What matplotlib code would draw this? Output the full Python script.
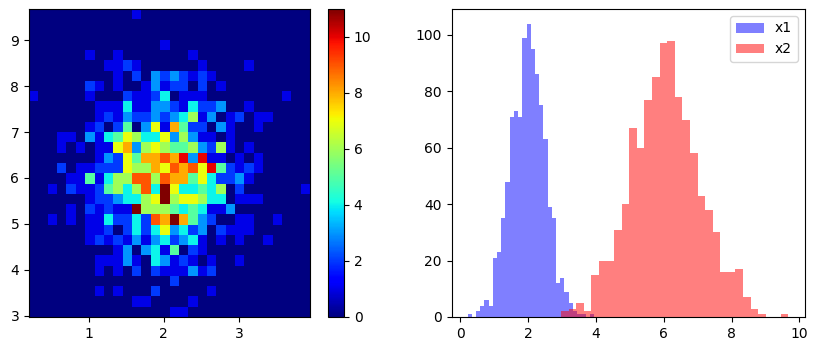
import numpy as np
import matplotlib.pyplot as plt

# bin edges of x1 (horizontal) and x2 (vertical), 30 bins each
x1_edges = np.linspace(0.21, 3.94, 31)
x2_edges = np.linspace(2.97, 9.68, 31)

# 2d histogram counts, top row (highest x2) first, columns low -> high x1
counts = [
    [0, 0, 0, 0, 0, 0, 0, 0, 0, 0, 0, 1, 0, 0, 0, 0, 0, 0, 0, 0, 0, 0, 0, 0, 0, 0, 0, 0, 0, 0],
    [0, 0, 0, 0, 0, 0, 0, 0, 0, 0, 0, 0, 0, 0, 0, 0, 0, 0, 0, 0, 0, 0, 0, 0, 0, 0, 0, 0, 0, 0],
    [0, 0, 0, 0, 0, 0, 0, 0, 0, 0, 0, 0, 0, 0, 0, 0, 0, 0, 0, 0, 0, 0, 0, 0, 0, 0, 0, 0, 0, 0],
    [0, 0, 0, 0, 0, 0, 0, 0, 0, 0, 0, 0, 0, 0, 1, 0, 0, 0, 0, 0, 0, 0, 0, 0, 0, 0, 0, 0, 0, 0],
    [0, 0, 0, 0, 0, 0, 1, 0, 0, 1, 0, 0, 0, 0, 0, 0, 0, 1, 0, 0, 0, 0, 0, 0, 0, 0, 0, 0, 0, 0],
    [0, 0, 0, 0, 0, 0, 0, 0, 1, 1, 2, 1, 0, 0, 0, 0, 0, 0, 1, 0, 0, 0, 0, 1, 0, 0, 0, 0, 0, 0],
    [0, 0, 0, 0, 0, 0, 0, 0, 0, 1, 0, 2, 0, 3, 2, 3, 2, 1, 2, 1, 0, 0, 0, 0, 0, 0, 0, 0, 0, 0],
    [0, 0, 0, 0, 0, 0, 2, 1, 0, 1, 0, 0, 1, 3, 1, 2, 2, 0, 2, 0, 1, 0, 0, 0, 0, 0, 0, 0, 0, 0],
    [1, 0, 0, 0, 0, 0, 1, 0, 0, 0, 2, 1, 1, 2, 4, 0, 1, 1, 1, 0, 0, 0, 0, 0, 0, 0, 0, 1, 0, 0],
    [0, 0, 0, 0, 0, 0, 0, 1, 1, 1, 4, 1, 1, 3, 3, 2, 1, 4, 2, 2, 3, 0, 0, 1, 0, 0, 0, 0, 0, 0],
    [0, 0, 0, 0, 0, 0, 0, 1, 2, 1, 3, 2, 2, 3, 2, 3, 4, 6, 1, 3, 0, 1, 2, 0, 1, 1, 0, 0, 0, 0],
    [0, 0, 0, 0, 0, 0, 1, 2, 0, 2, 5, 0, 3, 7, 1, 8, 5, 2, 2, 0, 3, 1, 0, 0, 1, 0, 0, 0, 0, 0],
    [0, 0, 0, 1, 1, 0, 3, 1, 4, 5, 7, 6, 4, 4, 7, 3, 6, 3, 1, 1, 0, 1, 0, 0, 0, 0, 0, 0, 0, 0],
    [0, 0, 0, 1, 0, 1, 0, 1, 1, 7, 8, 3, 6, 7, 6, 5, 5, 6, 3, 2, 6, 1, 0, 1, 0, 0, 0, 0, 0, 0],
    [0, 0, 0, 0, 0, 0, 0, 1, 3, 2, 7, 5, 8, 8, 9, 8, 10, 3, 10, 1, 1, 0, 1, 0, 1, 0, 0, 0, 0, 0],
    [0, 0, 0, 2, 0, 1, 1, 2, 2, 2, 7, 6, 6, 8, 7, 9, 8, 9, 7, 10, 5, 2, 1, 2, 1, 0, 0, 0, 0, 0],
    [0, 0, 0, 0, 1, 1, 5, 1, 4, 6, 6, 9, 9, 6, 9, 8, 8, 5, 7, 4, 2, 2, 3, 1, 0, 0, 0, 0, 0, 0],
    [0, 0, 1, 0, 2, 1, 1, 2, 5, 6, 4, 6, 9, 4, 11, 7, 4, 4, 5, 4, 6, 0, 2, 0, 0, 0, 0, 0, 0, 1],
    [0, 0, 0, 0, 0, 0, 1, 2, 2, 3, 4, 4, 6, 7, 11, 6, 7, 7, 6, 4, 4, 0, 1, 1, 1, 0, 0, 0, 0, 0],
    [0, 0, 0, 0, 1, 0, 2, 1, 2, 1, 1, 11, 6, 6, 6, 5, 4, 5, 4, 1, 1, 3, 0, 0, 0, 0, 0, 0, 0, 0],
    [0, 0, 1, 0, 1, 0, 1, 1, 4, 2, 2, 4, 2, 9, 8, 11, 8, 5, 3, 2, 0, 0, 1, 1, 0, 0, 1, 0, 0, 0],
    [0, 0, 0, 0, 0, 0, 1, 1, 2, 0, 2, 4, 2, 4, 7, 3, 4, 2, 3, 0, 2, 1, 1, 1, 0, 0, 0, 0, 0, 0],
    [0, 0, 0, 0, 0, 0, 1, 2, 1, 2, 1, 3, 1, 3, 4, 2, 3, 4, 1, 0, 1, 0, 1, 0, 0, 1, 0, 0, 0, 0],
    [0, 0, 0, 0, 0, 0, 0, 0, 0, 1, 3, 0, 3, 4, 1, 5, 0, 2, 1, 0, 0, 0, 0, 0, 0, 0, 0, 0, 0, 0],
    [0, 0, 0, 0, 0, 0, 0, 1, 1, 1, 3, 1, 0, 4, 3, 1, 2, 1, 0, 1, 0, 0, 1, 0, 0, 0, 0, 0, 0, 0],
    [0, 0, 0, 0, 0, 0, 0, 1, 0, 1, 0, 2, 0, 2, 1, 1, 1, 3, 1, 2, 0, 0, 0, 0, 0, 0, 0, 0, 0, 0],
    [0, 0, 0, 0, 0, 0, 0, 0, 0, 0, 0, 0, 0, 0, 0, 2, 0, 0, 0, 0, 0, 0, 0, 0, 0, 0, 0, 0, 0, 0],
    [0, 0, 0, 0, 0, 0, 0, 1, 0, 1, 0, 0, 0, 2, 0, 0, 0, 0, 0, 1, 0, 0, 0, 0, 0, 0, 0, 0, 0, 0],
    [0, 0, 0, 0, 0, 0, 0, 0, 0, 0, 0, 1, 1, 0, 0, 0, 0, 1, 0, 0, 0, 0, 0, 0, 0, 0, 0, 0, 0, 0],
    [0, 0, 0, 0, 0, 0, 0, 0, 0, 0, 0, 0, 0, 0, 0, 1, 1, 0, 0, 0, 0, 0, 0, 0, 0, 0, 0, 0, 0, 0],
]

# 1d histogram counts, low -> high
x1_counts = [1, 0, 2, 4, 6, 4, 21, 23, 35, 48, 71, 73, 71, 99, 104,
             95, 86, 75, 63, 39, 35, 12, 14, 9, 5, 2, 1, 1, 0, 1]
x2_counts = [2, 3, 5, 2, 15, 20, 20, 31, 40, 67, 60, 77, 85, 97, 98,
             78, 70, 58, 43, 38, 30, 16, 16, 17, 7, 3, 1, 0, 0, 1]

W, H = 817, 351
fig = plt.figure(figsize=(W / 100, H / 100), dpi=100)
ax1 = fig.add_axes([29 / W, 34 / H, 281 / W, 308 / H])
cax = fig.add_axes([328 / W, 34 / H, 16 / W, 308 / H])
ax2 = fig.add_axes([451.5 / W, 34 / H, 353 / W, 308 / H])

x1_mid = (x1_edges[:-1] + x1_edges[1:]) / 2
x2_mid = (x2_edges[:-1] + x2_edges[1:]) / 2
X, Y = np.meshgrid(x1_mid, x2_mid)
grid = np.array(counts)[::-1]  # bottom row first

_, _, _, im = ax1.hist2d(X.ravel(), Y.ravel(), bins=[x1_edges, x2_edges],
                         weights=grid.ravel(), cmap="jet")
fig.colorbar(im, cax=cax)

ax2.hist(x1_mid, bins=x1_edges, weights=x1_counts, color="blue", alpha=0.5, label="x1")
ax2.hist(x2_mid, bins=x2_edges, weights=x2_counts, color="red", alpha=0.5, label="x2")
ax2.legend(loc="upper right")

fig.savefig("out.png", dpi=100)
